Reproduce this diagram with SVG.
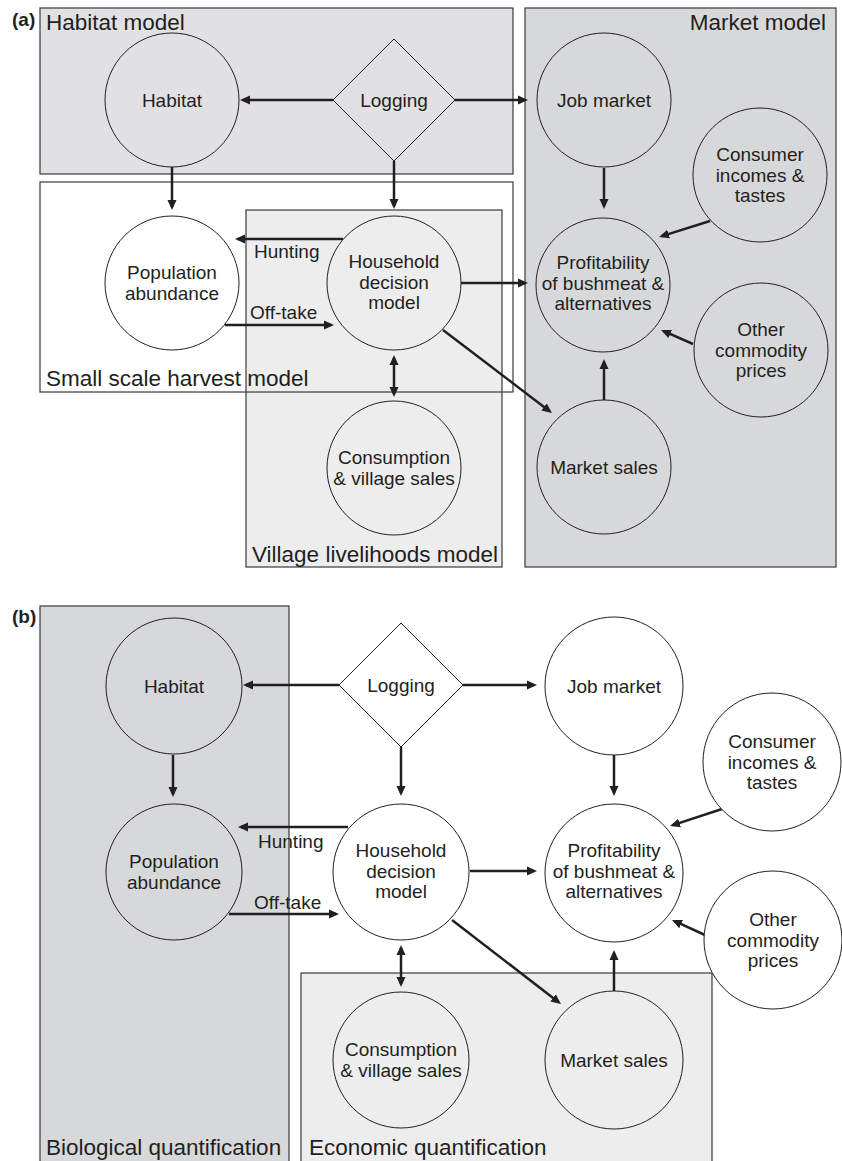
<svg xmlns="http://www.w3.org/2000/svg" width="842" height="1161" viewBox="0 0 842 1161">
<defs>
<style>
text{font-family:"Liberation Sans",Arial,Helvetica,sans-serif;fill:#231f20}
.t{font-size:19px;text-anchor:middle}
.el{font-size:19px}
.bl{font-size:22.5px}
.pl{font-size:19px;font-weight:bold}
.box{stroke:#3a3a3a;stroke-width:1.2}
.n{stroke:#231f20;stroke-width:1}
.c{stroke:#231f20;stroke-width:2.5;fill:none}
.a{marker-end:url(#ah)}
.ab{marker-end:url(#ah);marker-start:url(#ah)}
.g1{fill:#e1e1e3}
.g2{fill:#d7d8da}
.g3{fill:#ededee}
.w{fill:#ffffff}
</style>
<marker id="ah" viewBox="0 0 10 10" refX="7" refY="5" markerWidth="10" markerHeight="10" markerUnits="userSpaceOnUse" orient="auto-start-reverse">
<path d="M0,0.5 L10,5 L0,9.5 z" fill="#231f20"/>
</marker>
</defs>
<rect width="842" height="1161" fill="#ffffff"/>

<!-- Panel (a) boxes -->
<g id="boxes-a">
<rect id="habitat-model-box" x="40" y="8" width="473" height="166" class="box g1"/>
<rect id="market-model-box" x="525" y="8" width="311" height="559" class="box g2"/>
<rect id="small-scale-fill" x="40" y="182" width="473" height="210" fill="#ffffff"/>
<rect id="village-box" x="246" y="210" width="256" height="357" class="box g3"/>
<rect id="small-scale-box" x="40" y="182" width="473" height="210" class="box" fill="none"/>
</g>
<g id="box-labels-a">
<text class="pl" x="12" y="26">(a)</text>
<text class="bl" x="46" y="30">Habitat model</text>
<text class="bl" x="826" y="30" text-anchor="end">Market model</text>
<text class="bl" x="46" y="386">Small scale harvest model</text>
<text class="bl" x="252" y="562">Village livelihoods model</text>
</g>

<!-- Panel (b) boxes -->
<g id="boxes-b">
<rect id="bio-box" x="40" y="606" width="249" height="560" class="box g2"/>
<rect id="econ-box" x="301" y="973" width="411" height="193" class="box g3"/>
</g>
<g id="box-labels-b">
<text class="pl" x="12" y="623">(b)</text>
<text class="bl" x="46" y="1155">Biological quantification</text>
<text class="bl" x="309" y="1155">Economic quantification</text>
</g>

<!-- Connectors -->
<g id="connectors">
<!-- (a) -->
<line class="c a" x1="333" y1="100" x2="243" y2="100"/>
<line class="c a" x1="455" y1="100" x2="525" y2="100"/>
<line class="c a" x1="172" y1="167" x2="172" y2="207"/>
<line class="c a" x1="394" y1="161" x2="394" y2="206"/>
<line class="c a" x1="343" y1="239" x2="238" y2="239"/>
<line class="c a" x1="225" y1="325" x2="331" y2="325"/>
<line class="c a" x1="461" y1="283" x2="525" y2="283"/>
<line class="c a" x1="604" y1="168" x2="604" y2="206"/>
<line class="c a" x1="710" y1="221" x2="661.9" y2="236.1"/>
<line class="c a" x1="693" y1="344" x2="663.8" y2="331.2"/>
<line class="c a" x1="604" y1="400" x2="604" y2="362"/>
<line class="c a" x1="443" y1="330" x2="549.6" y2="411.2"/>
<line class="c ab" x1="394" y1="358" x2="394" y2="394"/>
<!-- (b) -->
<line class="c a" x1="339" y1="685" x2="246" y2="685"/>
<line class="c a" x1="463" y1="685" x2="534" y2="685"/>
<line class="c a" x1="173" y1="755" x2="173" y2="794"/>
<line class="c a" x1="401" y1="747" x2="401" y2="793"/>
<line class="c a" x1="348" y1="827" x2="241" y2="827"/>
<line class="c a" x1="229" y1="914" x2="336" y2="914"/>
<line class="c a" x1="470" y1="871" x2="534" y2="871"/>
<line class="c a" x1="614" y1="755" x2="614" y2="793"/>
<line class="c a" x1="722" y1="809" x2="672.9" y2="825.1"/>
<line class="c a" x1="705" y1="935" x2="674.7" y2="921.2"/>
<line class="c a" x1="614" y1="991" x2="614" y2="953"/>
<line class="c a" x1="452" y1="920" x2="558.6" y2="1002.2"/>
<line class="c ab" x1="401" y1="948" x2="401" y2="984"/>
</g>
<g id="connector-labels">
<text class="el" x="254" y="258">Hunting</text>
<text class="el" x="250" y="319">Off-take</text>
<text class="el" x="258" y="848">Hunting</text>
<text class="el" x="254" y="909">Off-take</text>
</g>

<!-- Panel (a) nodes -->
<g id="a-habitat"><circle cx="172" cy="100" r="67" class="n g1"/><text class="t" x="172" y="107">Habitat</text></g>
<g id="a-logging"><polygon points="394,39 455,100 394,161 333,100" class="n g1"/><text class="t" x="394" y="107">Logging</text></g>
<g id="a-job-market"><circle cx="604" cy="100" r="67" class="n g2"/><text class="t" x="604" y="107">Job market</text></g>
<g id="a-consumer"><circle cx="760" cy="175" r="67" class="n g2"/><text class="t" x="760" y="161">Consumer</text><text class="t" x="760" y="181.5">incomes &amp;</text><text class="t" x="760" y="202">tastes</text></g>
<g id="a-profitability"><circle cx="603" cy="285" r="67" class="n g2"/><text class="t" x="603" y="269">Profitability</text><text class="t" x="603" y="289.5">of bushmeat &amp;</text><text class="t" x="603" y="310">alternatives</text></g>
<g id="a-other"><circle cx="761" cy="350" r="67" class="n g2"/><text class="t" x="761" y="336">Other</text><text class="t" x="761" y="356.5">commodity</text><text class="t" x="761" y="377">prices</text></g>
<g id="a-market-sales"><circle cx="604" cy="467" r="67" class="n g2"/><text class="t" x="604" y="474">Market sales</text></g>
<g id="a-population"><circle cx="172" cy="283" r="67" class="n w"/><text class="t" x="172" y="279">Population</text><text class="t" x="172" y="299.5">abundance</text></g>
<g id="a-household"><circle cx="394" cy="283" r="67" class="n g3"/><text class="t" x="394" y="268">Household</text><text class="t" x="394" y="288.5">decision</text><text class="t" x="394" y="309">model</text></g>
<g id="a-consumption"><circle cx="394" cy="468" r="67" class="n g3"/><text class="t" x="394" y="464">Consumption</text><text class="t" x="394" y="484.5">&amp; village sales</text></g>

<!-- Panel (b) nodes -->
<g id="b-habitat"><circle cx="174" cy="686" r="68" class="n g2"/><text class="t" x="174" y="693">Habitat</text></g>
<g id="b-logging"><polygon points="401,623 463,685 401,747 339,685" class="n w"/><text class="t" x="401" y="692">Logging</text></g>
<g id="b-job-market"><circle cx="614" cy="686" r="69" class="n w"/><text class="t" x="614" y="693">Job market</text></g>
<g id="b-consumer"><circle cx="772" cy="762" r="69" class="n w"/><text class="t" x="772" y="748">Consumer</text><text class="t" x="772" y="768.5">incomes &amp;</text><text class="t" x="772" y="789">tastes</text></g>
<g id="b-profitability"><circle cx="614" cy="873" r="69" class="n w"/><text class="t" x="614" y="857">Profitability</text><text class="t" x="614" y="877.5">of bushmeat &amp;</text><text class="t" x="614" y="898">alternatives</text></g>
<g id="b-other"><circle cx="773" cy="940" r="69" class="n w"/><text class="t" x="773" y="926">Other</text><text class="t" x="773" y="946.5">commodity</text><text class="t" x="773" y="967">prices</text></g>
<g id="b-market-sales"><circle cx="614" cy="1060" r="69" class="n g3"/><text class="t" x="614" y="1067">Market sales</text></g>
<g id="b-population"><circle cx="174" cy="872" r="68" class="n g2"/><text class="t" x="174" y="868">Population</text><text class="t" x="174" y="888.5">abundance</text></g>
<g id="b-household"><circle cx="401" cy="872" r="68" class="n w"/><text class="t" x="401" y="857">Household</text><text class="t" x="401" y="877.5">decision</text><text class="t" x="401" y="898">model</text></g>
<g id="b-consumption"><circle cx="401" cy="1060" r="68" class="n g3"/><text class="t" x="401" y="1056">Consumption</text><text class="t" x="401" y="1076.5">&amp; village sales</text></g>
</svg>
